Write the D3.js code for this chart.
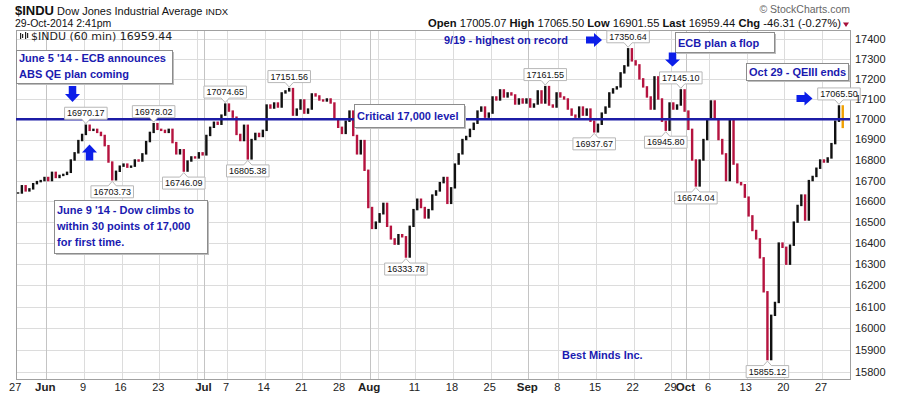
<!DOCTYPE html>
<html>
<head>
<meta charset="utf-8">
<script src="https://cdn.jsdelivr.net/npm/d3@7"></script>
<style>
  body { margin: 0; background: #fff; }
  svg { display: block; font-family: "Liberation Sans", Arial, sans-serif; }
</style>
</head>
<body>
<div id="chart"></div>
<script>
// $INDU 60-min, read off the chart as two points per trading day (midday, close)
// 27 May 2014 .. 29 Oct 2014 (110 trading days)
const closes = [
  16640, 16675, 16650, 16660, 16685, 16695, 16700, 16715,                 // May 27-30
  16700, 16740, 16715, 16725, 16730, 16740, 16800, 16835, 16895, 16925,   // Jun 2-6
  16970.17, 16945, 16950, 16935, 16920, 16870, 16790, 16703.73, 16745, 16770, // Jun 9-13
  16780, 16765, 16770, 16800, 16795, 16830, 16890, 16935, 16978.02, 16950, // Jun 16-20
  16945, 16935, 16950, 16885, 16830, 16850, 16746.09, 16795, 16815, 16810, // Jun 23-27
  16835, 16825, 16920, 16960, 16985, 16975, 17020, 17074.65,              // Jun 30-Jul 3
  17040, 17010, 16925, 16895, 16970, 16805.38, 16900, 16930, 16915, 16945, // Jul 7-11
  17070, 17055, 17080, 17060, 17130, 17140, 17151.56, 17020, 17050, 17095, // Jul 14-18
  17030, 17050, 17125, 17115, 17095, 17090, 17100, 17080, 17000, 16960,   // Jul 21-25
  16930, 16990, 17040, 16920, 16830, 16895, 16750, 16570, 16470, 16500,   // Jul 28-Aug 1
  16540, 16590, 16480, 16420, 16395, 16440, 16430, 16333.78, 16480, 16560, // Aug 4-8
  16610, 16570, 16520, 16560, 16630, 16650, 16690, 16715, 16590, 16665,   // Aug 11-15
  16780, 16830, 16900, 16915, 16950, 16980, 17040, 17060, 17010, 17030,   // Aug 18-22
  17110, 17095, 17145, 17110, 17130, 17120, 17075, 17100, 17080, 17100,   // Aug 25-29
  17060, 17075, 17140, 17080, 17161.55, 17070, 17060, 17130,              // Sep 2-5
  17110, 17100, 17050, 17020, 17010, 17060, 17020, 17050, 16990, 16937.67, // Sep 8-12
  16975, 17030, 17060, 17130, 17150, 17160, 17230, 17265, 17350.64, 17290, // Sep 15-19
  17270, 17200, 17160, 17110, 17050, 17210, 17100, 16990, 16945.80, 17080, // Sep 22-26
  17050, 17070, 17145.10, 17040, 16950, 16800, 16674.04, 16800, 16900, 17000, // Sep 29-Oct 3
  17090, 17000, 16900, 16830, 16700, 16995, 16780, 16690, 16680, 16620,   // Oct 6-10
  16530, 16460, 16420, 16330, 16170, 15855.12, 16060, 16120, 16400, 16380, // Oct 13-17
  16300, 16390, 16500, 16580, 16630, 16510, 16700, 16720, 16760, 16800,   // Oct 20-24
  16790, 16810, 16880, 16990, 17065.50, 16959.44                          // Oct 27-29
];

// bars that carry a price callout, above (1) or below (0) the price
const calloutBars = [18, 25, 36, 44, 55, 61, 72, 103, 140, 153, 162, 172, 176, 180, 199, 218];
const calloutAbove = [1, 0, 1, 0, 1, 0, 1, 0, 1, 0, 1, 0, 1, 0, 0, 1];

const yTicks = [15800, 15900, 16000, 16100, 16200, 16300, 16400, 16500, 16600,
                16700, 16800, 16900, 17000, 17100, 17200, 17300, 17400];

// trading-day index of each date label
const tickDays   = [0, 4, 9, 14, 19, 25, 28, 33, 38, 43, 47, 53, 58, 63, 68, 72, 77, 82, 87, 89, 92, 97, 102, 107];
const tickLabels = ["27", "Jun", "9", "16", "23", "Jul", "7", "14", "21", "28", "Aug", "11", "18", "25",
                    "Sep", "8", "15", "22", "29", "Oct", "6", "13", "20", "27"];
const monthDays  = [4, 25, 47, 68, 89];
const weekDays   = [0, 4, 9, 14, 19, 24, 28, 33, 38, 43, 48, 53, 58, 63, 68, 72, 77, 82, 87, 92, 97, 102, 107];

const quote = [["Open", "17005.07"], ["High", "17065.50"], ["Low", "16901.55"],
               ["Last", "16959.44"], ["Chg", "-46.31 (-0.27%)"]];

const W = 899, H = 395;
const plot = { left: 16, right: 850, top: 30, bottom: 379 };
const TEXT_BLUE = "#1a1ab0", ARROW_BLUE = "#0c1ee8";

const svg = d3.select("#chart").append("svg")
    .attr("width", W)
    .attr("height", H);

// scales: half-day bars along x, log price on y
const xBar = d3.scaleLinear()
  .domain([0, 220])
  .range([16.2, 16.2 + 110 * 7.531]);
const xDay = d => xBar(d * 2);
const y = d3.scaleLog()
  .domain([15800, 17400])
  .range([371.6, 39]);

// grid
const grid = svg.append("g");
grid.selectAll("line.h")
  .data(yTicks)
  .join("line")
    .attr("x1", plot.left).attr("x2", plot.right)
    .attr("y1", d => Math.round(y(d)) + 0.5).attr("y2", d => Math.round(y(d)) + 0.5)
    .attr("stroke", "#dcdcdc");
grid.selectAll("line.v")
  .data(weekDays)
  .join("line")
    .attr("x1", d => Math.round(xDay(d)) + 0.5).attr("x2", d => Math.round(xDay(d)) + 0.5)
    .attr("y1", plot.top).attr("y2", plot.bottom)
    .attr("stroke", "#dcdcdc");
grid.selectAll("line.m")
  .data(monthDays)
  .join("line")
    .attr("x1", d => Math.round(xDay(d)) + 0.5).attr("x2", d => Math.round(xDay(d)) + 0.5)
    .attr("y1", plot.top).attr("y2", plot.bottom)
    .attr("stroke", "#c4c4c4");

// frame
svg.append("rect")
    .attr("x", plot.left + 0.5).attr("y", plot.top + 0.5)
    .attr("width", plot.right - plot.left).attr("height", plot.bottom - plot.top)
    .attr("fill", "none")
    .attr("stroke", "#a0a0a0");

// bars: each one runs from the previous point to this one
const bars = svg.append("g");
bars.selectAll("rect")
  .data(closes)
  .join("rect")
    .attr("x", (d, i) => xBar(i) + 0.7)
    .attr("width", 2.4)
    .attr("y", (d, i) => y(Math.max(d, closes[i - 1] ?? d)) - 0.7)
    .attr("height", (d, i) => Math.abs(y(d) - y(closes[i - 1] ?? d)) + 1.4)
    .attr("fill", (d, i) => i === closes.length - 1 ? "#f0a000"
                          : d >= (closes[i - 1] ?? d) ? "#111" : "#b5133f");

// critical 17,000 line
svg.append("line")
    .attr("x1", plot.left).attr("x2", plot.right)
    .attr("y1", y(17000)).attr("y2", y(17000))
    .attr("stroke", "#1c1ca6")
    .attr("stroke-width", 2.6);

// price callouts
const callouts = svg.append("g").style("font-size", "9px");
calloutBars.forEach((b, i) => {
  const v = closes[b];
  const cx = xBar(b + 0.5);
  const py = y(v);
  const up = calloutAbove[i] === 1;
  const g = callouts.append("g");
  const t = g.append("text")
      .attr("x", cx)
      .attr("text-anchor", "middle")
      .attr("fill", "#111")
      .text(v.toFixed(2));
  const w = t.node().getComputedTextLength() + 5, h = 12;
  const top = up ? py - 6 - h : py + 6;
  const tipY = up ? py - 1.5 : py + 1.5;
  const edge = up ? top + h : top;
  const p = d3.path();
  p.moveTo(cx - w / 2, top);
  if (!up) { p.lineTo(cx - 4, top); p.lineTo(cx, tipY); p.lineTo(cx + 4, top); }
  p.lineTo(cx + w / 2, top);
  p.lineTo(cx + w / 2, top + h);
  if (up) { p.lineTo(cx + 4, edge); p.lineTo(cx, tipY); p.lineTo(cx - 4, edge); }
  p.lineTo(cx - w / 2, top + h);
  p.closePath();
  g.insert("path", "text")
      .attr("d", p.toString())
      .attr("fill", "#fff")
      .attr("stroke", "#b8b8b8");
  t.attr("y", top + 9);
});

// right axis
svg.append("g")
  .selectAll("text")
  .data(yTicks)
  .join("text")
    .attr("x", 855)
    .attr("y", d => y(d))
    .attr("dy", "0.36em")
    .style("font-size", "11px")
    .attr("fill", "#222")
    .text(d => d);

// bottom axis
svg.append("g")
  .selectAll("text")
  .data(tickDays)
  .join("text")
    .attr("x", d => xDay(d) - 1)
    .attr("y", 391)
    .attr("text-anchor", "middle")
    .style("font-size", (d, i) => monthDays.includes(d) ? "11.5px" : "11px")
    .style("font-weight", d => monthDays.includes(d) ? "bold" : "normal")
    .attr("fill", "#222")
    .text((d, i) => tickLabels[i]);

// header
const head = svg.append("text").attr("x", 15).attr("y", 15).attr("fill", "#111");
head.append("tspan").style("font-size", "13px").style("font-weight", "bold").text("$INDU");
head.append("tspan").style("font-size", "11px").text(" Dow Jones Industrial Average ");
head.append("tspan").style("font-size", "9.5px").text("INDX");
svg.append("text")
    .attr("x", 15).attr("y", 27)
    .style("font-size", "10.5px")
    .attr("fill", "#111")
    .text("29-Oct-2014 2:41pm");
svg.append("text")
    .attr("x", 850).attr("y", 13)
    .attr("text-anchor", "end")
    .style("font-size", "10.5px")
    .attr("fill", "#666")
    .text("\u00a9 StockCharts.com");

const q = svg.append("text")
    .attr("x", 841).attr("y", 27)
    .attr("text-anchor", "end")
    .attr("fill", "#111")
    .style("font-size", "11.2px");
quote.forEach(([k, v], i) => {
  q.append("tspan").style("font-weight", "bold").text((i ? "  " : "") + k + " ");
  q.append("tspan").text(v);
});
svg.append("path")
    .attr("d", "M843,22.5 L849,22.5 L846,27 Z")
    .attr("fill", "#a8103a");

// legend line inside the plot
const icon = svg.append("g").attr("fill", "#222");
[[20, 33, 6], [22, 34, 4], [25, 32, 7], [27, 33, 5]].forEach(([bx, by, bh]) =>
  icon.append("rect").attr("x", bx).attr("y", by).attr("width", 1.2).attr("height", bh));
svg.append("text")
    .attr("x", 31).attr("y", 40)
    .style("font-family", "'DejaVu Sans', sans-serif")
    .style("font-size", "11px")
    .attr("fill", "#222")
    .text("$INDU (60 min) 16959.44");

// annotations
function box(x, yTop, w, h, lines, dy) {
  svg.append("rect")
      .attr("x", x + 2).attr("y", yTop + 2).attr("width", w).attr("height", h)
      .attr("fill", "#bdbdbd");
  svg.append("rect")
      .attr("x", x + 0.5).attr("y", yTop + 0.5).attr("width", w).attr("height", h)
      .attr("fill", "#fff").attr("stroke", "#8c8c8c");
  lines.forEach((s, i) => note(x + 3, yTop + dy + i * 16, s));
}
function note(x, yb, s) {
  svg.append("text")
      .attr("x", x).attr("y", yb)
      .style("font-size", "11px")
      .style("font-weight", "bold")
      .attr("fill", TEXT_BLUE)
      .text(s);
}
function arrow(cx, cy, len, wid, angle) {
  const sw = wid * 0.5, sl = len * 0.5;
  const top = -len / 2;
  const pts = [[-sw / 2, top], [sw / 2, top], [sw / 2, top + sl], [wid / 2, top + sl],
               [0, len / 2], [-wid / 2, top + sl], [-sw / 2, top + sl]];
  svg.append("path")
      .attr("d", "M" + pts.join("L") + "Z")
      .attr("transform", `translate(${cx},${cy}) rotate(${angle})`)
      .attr("fill", ARROW_BLUE);
}

box(16, 50, 156, 33, ["June 5 '14 - ECB announces", "ABS QE plan coming"], 12);
arrow(72.5, 94, 16, 15, 0);
arrow(89.5, 152.5, 16, 15, 180);
box(54, 200, 153, 53, ["June 9 '14 - Dow climbs to", "within 30 points of 17,000", "for first time."], 14);
box(354, 104, 110, 23, ["Critical 17,000 level"], 16);
note(444, 44, "9/19 - highest on record");
arrow(594, 40, 16, 14, -90);
box(675, 32, 99, 20, ["ECB plan a flop"], 15);
arrow(672.5, 59.5, 14, 15, 0);
box(746, 63, 102, 17, ["Oct 29 - QEIII ends"], 13);
arrow(804.5, 98.5, 16, 14, -90);
note(562, 359, "Best Minds Inc.");
</script>
</body>
</html>
